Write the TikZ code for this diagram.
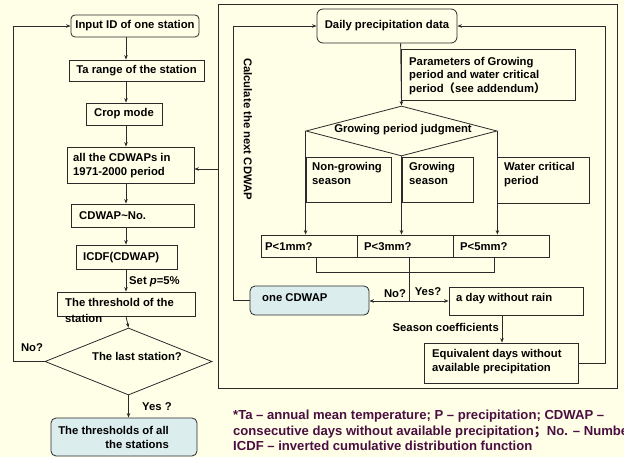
\documentclass[tikz,border=0pt]{standalone}
\usepackage{fontspec}
\setmainfont{Liberation Sans}
\newfontfamily\cjkfont{Noto Sans CJK SC}
\usetikzlibrary{arrows.meta,shapes.geometric}
\definecolor{bg}{HTML}{FFFFE8}
\definecolor{ln}{HTML}{2A2A2A}
\definecolor{bluef}{HTML}{DCEDEE}
\definecolor{foot}{HTML}{4A0F40}
\newcommand\mfs{\fontsize{11.3}{14}\selectfont\bfseries}
\begin{document}
\begin{tikzpicture}[x=1pt,y=-1pt,
  bx/.style={draw=ln,line width=0.8pt,inner sep=0pt,minimum width=#1},
  ctext/.style={font=\mfs,align=center},
  tx/.style={font=\mfs,inner sep=0pt,anchor=north west,align=left},
  lab/.style={font=\mfs,inner sep=0pt},
  arr/.style={draw=ln,line width=0.8pt,-{Stealth[length=4.5pt,width=3.5pt]}},
  ln/.style={draw=ln,line width=0.8pt}]
\fill[bg] (0,0) rectangle (624,457);
\clip (0,0) rectangle (624,457);
\useasboundingbox (0,0) rectangle (624,457);
\coordinate (cx) at (126,0);
\coordinate (lc) at (13,0);
\coordinate (il) at (233,0);
\coordinate (ir) at (605,0);
\coordinate (sc) at (502,0);
\coordinate (bl) at (316,272);
\coordinate (br) at (494,272);
\coordinate (jn) at (409,301);
% left column
\node[bx=128pt,minimum height=22pt,rounded corners=4pt,ctext] (input) at (135,26) {Input ID of one station};
\node[bx=135pt,minimum height=21pt,ctext] (ta) at (136.5,70.5) {Ta range of the station};
\node[bx=76pt,minimum height=22pt,ctext] (crop) at (124,114) {Crop mode};
\node[bx=127pt,minimum height=36pt] (all) at (130.5,165) {};
\node[tx] (allt) at (73,153.5) {all the CDWAPs in\\1971-2000 period};
\node[bx=123pt,minimum height=23pt] (cno) at (132.5,215.5) {};
\node[tx] (cnot) at (79,211.5) {CDWAP\textasciitilde No.};
\node[bx=101pt,minimum height=24pt] (icdf) at (126.5,257) {};
\node[tx] (icdft) at (83,252.5) {ICDF(CDWAP)};
\node[bx=138pt,minimum height=24pt] (thr) at (126,304) {};
\node[tx,font=\fontsize{11.3}{16}\selectfont\bfseries] (thrt) at (65,298.5) {The threshold of the\\station};
\node[draw=ln,line width=0.8pt,diamond,minimum width=167pt,minimum height=67pt,inner sep=0pt] (last) at (128.5,361.5) {};
\node[lab] (lastt) at (137,356) {The last station?};
\node[bx=146pt,minimum height=38pt,rounded corners=5pt,fill=bluef] (fin) at (124,437) {};
\node[tx,align=right,anchor=north east,font=\fontsize{11.3}{13.5}\selectfont\bfseries] (fint) at (169,426.5) {The thresholds of all\\the stations};
\draw[arr] (input.south -| cx) -- (ta.north -| cx);
\draw[arr] (ta.south -| cx) -- (crop.north -| cx);
\draw[arr] (crop.south -| cx) -- (all.north -| cx);
\draw[arr] (all.south -| cx) -- (cno.north -| cx);
\draw[arr] (cno.south -| cx) -- (icdf.north -| cx);
\draw[arr] (icdf.south -| cx) -- (thr.north -| cx);
\draw[arr] (thr.south -| cx) -- (last.north);
\draw[arr] (last.south) -- (fin.north -| last.south);
\draw[arr] (last.west) -- (last.west -| lc) |- (input.west);
\node[lab,anchor=west] (setp) at (129,282) {Set \textit{p}=5\%};
\node[lab] (no1) at (32,348) {No?};
\node[lab] (yes1) at (157,407) {Yes ?};
% right panel
\node[bx=399pt,minimum height=384pt] (panel) at (417.5,196) {};
\draw[arr] (panel.west |- 0,169) -- (all.east |- 0,169);
\node[bx=140pt,minimum height=34pt,rounded corners=6pt,ctext] (daily) at (387,26) {Daily precipitation data};
\node[bx=174pt,minimum height=51pt] (param) at (488,74.5) {};
\node[tx,font=\fontsize{11.3}{12.5}\selectfont\bfseries] (paramt) at (409,57.5) {Parameters of Growing\\period and water critical\\[2pt]period{\cjkfont （}see addendum{\cjkfont ）}};
\node[draw=ln,line width=0.8pt,diamond,minimum width=191pt,minimum height=50pt,inner sep=0pt] (gp) at (401.5,131) {};
\node[lab] (gpt) at (403,130) {Growing period judgment};
\node[bx=85pt,minimum height=45pt] (ng) at (348.5,179.5) {};
\node[tx] (ngt) at (312,162.5) {Non-growing\\season};
\node[bx=71pt,minimum height=45pt] (gs) at (437.5,179.5) {};
\node[tx] (gst) at (409,162.5) {Growing\\season};
\node[bx=92pt,minimum height=46pt] (wc) at (543,180) {};
\node[tx] (wct) at (504,162.5) {Water critical\\period};
\node[bx=96pt,minimum height=22pt] (p1) at (309,246) {};
\node[bx=96pt,minimum height=22pt] (p3) at (405,246) {};
\node[bx=96pt,minimum height=22pt] (p5) at (501,246) {};
\node[tx] (p1t) at (265,242.5) {P<1mm?};
\node[tx] (p3t) at (364,242.5) {P<3mm?};
\node[tx] (p5t) at (460,242.5) {P<5mm?};
\draw[arr] (gp.west) -- (gp.west |- p1.north);
\draw[arr] (gp.south) -- (gp.south |- p3.north);
\draw[arr] (gp.east) -- (gp.east |- p5.north);
\draw[arr] (daily.south -| param.west) -- (gp.north);
\draw[ln] (p1.south -| bl) -- (bl) -- (br) -- (p5.south -| br);
\draw[ln] (p3.south -| jn) -- (jn);
\node[bx=119pt,minimum height=29pt,rounded corners=5pt,fill=bluef] (one) at (309.5,300.5) {};
\node[tx] (onet) at (262,293.5) {one CDWAP};
\node[bx=134pt,minimum height=28pt] (rain) at (516,301) {};
\node[tx] (raint) at (456,293.5) {a day without rain};
\draw[arr] (jn) -- (one.east |- jn);
\draw[arr] (jn) -- (rain.west |- jn);
\node[lab] (nol) at (395,294) {No?};
\node[lab] (yesl) at (428,292) {Yes?};
\node[bx=154pt,minimum height=40pt] (equiv) at (501,363) {};
\node[tx] (equivt) at (432,349.5) {Equivalent days without\\available precipitation};
\draw[arr] (rain.south -| sc) -- (equiv.north -| sc);
\node[lab,anchor=east] (seas) at (499,327) {Season coefficients};
\draw[arr] (one.west) -- (one.west -| il) |- (daily.west);
\draw[arr] (equiv.east) -- (equiv.east -| ir) |- (daily.east);
\node[lab,rotate=-90] (calc) at (248,129) {Calculate the next CDWAP};
% footnote
\node[tx,text=foot,font=\fontsize{13.1}{15.5}\selectfont\bfseries] (foot) at (233,410) {*Ta – annual mean temperature; P – precipitation; CDWAP –\\consecutive days without available precipitation{\cjkfont ；}No. – Number of days\\ICDF – inverted cumulative distribution function};
\end{tikzpicture}
\end{document}
